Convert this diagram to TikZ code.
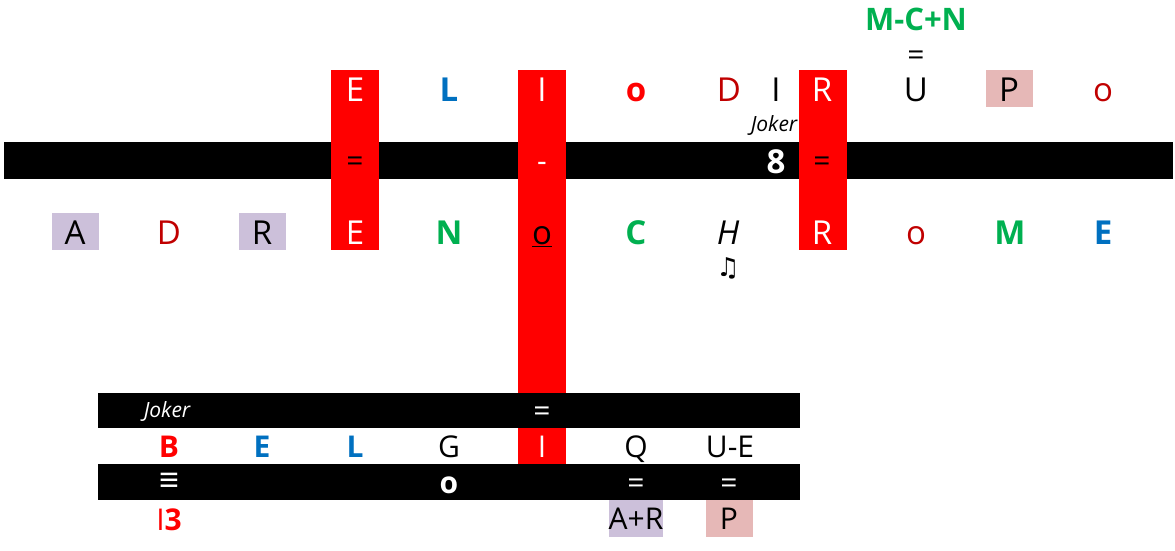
\documentclass[tikz,border=0pt]{standalone}
\usepackage{fontspec}
\setmainfont{Open Sans}
\newfontfamily\symfont{DejaVu Sans}
\newfontfamily\eqvfont{Liberation Sans}
\usepackage{xcolor}
\usepackage{tikz}
\definecolor{rouge}{HTML}{FF0000}
\definecolor{bordeaux}{HTML}{C00000}
\definecolor{bleu}{HTML}{0070C0}
\definecolor{vert}{HTML}{00B050}
\definecolor{lavande}{HTML}{CCC0DA}
\definecolor{rose}{HTML}{E6B8B7}
\newcommand{\cellfont}{\fontsize{33}{33}\selectfont}
\newcommand{\basfont}{\fontsize{30}{30}\selectfont}
\tikzset{
	cell/.style={minimum width=47pt,minimum height=37pt,inner sep=0pt,text height=25pt,text depth=0pt,font=\cellfont},
	gras/.style={font=\cellfont\bfseries},
	cellb/.style={cell,text height=22pt,font=\basfont},
	grasb/.style={font=\basfont\bfseries},
	joker/.style={inner sep=0pt,font=\fontsize{21}{21}\selectfont\itshape},
	bande/.style={fill=black},
	colonne/.style={fill=rouge}
}

\begin{document}
\begin{tikzpicture}[x=1pt,y=-1pt]
\useasboundingbox (0,0) rectangle (1175,550);

%Bande noire du haut
\fill[bande] (4,142) rectangle (1173,179);

%Colonnes rouges
\fill[colonne] (331,70) rectangle (379,250);
\fill[colonne] (518,70) rectangle (566,465);
\fill[colonne] (799,70) rectangle (847,250);

%Bandes noires du bas
\fill[bande] (98,393) rectangle (800,428);
\fill[bande] (98,464) rectangle (800,500);

%Indice en haut
\node[cell,vert,font=\fontsize{31}{31}\selectfont\bfseries] (mcn) at (916,18) {M-C+N};
\node[cellb] (egU) at (916,54) {=};

%Ligne du haut
\node[cell,white] (h1) at (355,88.5) {E};
\node[cell,gras,bleu] (h2) at (449,88.5) {L};
\node[cell,white] (h3) at (542,88.5) {I};
\node[cell,gras,rouge] (h4) at (636,88.5) {o};
\node[cell,bordeaux] (h5) at (729,88.5) {D};
\node[cell] (h5b) at (776,88.5) {I};
\node[cell,white] (h6) at (822,88.5) {R};
\node[cell] (h7) at (916,88.5) {U};
\node[cell,fill=rose] (h8) at (1009,88.5) {P};
\node[cell,bordeaux] (h9) at (1103,88.5) {o};

\node[joker] (jk1) at (774,125) {Joker};

%Dans la bande du haut
\node[cellb] (b1) at (355,160.5) {=};
\node[cellb,white] (b2) at (542,160.5) {-};
\node[cell,gras,white] (b3) at (776,160.5) {8};
\node[cellb] (b4) at (822,160.5) {=};

%Ligne du milieu
\node[cell,fill=lavande] (m1) at (75,231.5) {A};
\node[cell,bordeaux] (m2) at (169,231.5) {D};
\node[cell,fill=lavande] (m3) at (262,231.5) {R};
\node[cell,white] (m4) at (355,231.5) {E};
\node[cell,gras,vert] (m5) at (449,231.5) {N};
\node[cell] (m6) at (542,231.5) {\underline{o}};
\node[cell,gras,vert] (m7) at (636,231.5) {C};
\node[cell,font=\cellfont\itshape] (m8) at (728,231.5) {H};
\node[cell,white] (m9) at (822,231.5) {R};
\node[cell,bordeaux] (m10) at (916,231.5) {o};
\node[cell,gras,vert] (m11) at (1010,231.5) {M};
\node[cell,gras,bleu] (m12) at (1103,231.5) {E};

\node[inner sep=0pt,font=\fontsize{26}{26}\symfont] (note) at (728,268) {♫};

%Bande du bas 1
\node[joker,white] (jk2) at (167,411) {Joker};
\node[cellb,white] (c1) at (542,410.5) {=};

%Ligne du bas
\node[cellb,grasb,rouge] (d1) at (169,446.5) {B};
\node[cellb,grasb,bleu] (d2) at (262,446.5) {E};
\node[cellb,grasb,bleu] (d3) at (355,446.5) {L};
\node[cellb] (d4) at (449,446.5) {G};
\node[cellb,white] (d5) at (542,446.5) {I};
\node[cellb] (d6) at (636,446.5) {Q};
\node[cellb] (d7) at (730,446.5) {U-E};

%Bande du bas 2
\node[inner sep=0pt,white,font=\fontsize{34}{34}\eqvfont] (trois) at (169,482) {≡};
\node[cellb,grasb,white] (e2) at (449,482) {o};
\node[cellb,white] (e3) at (636,482) {=};
\node[cellb,white] (e4) at (729,482) {=};

%Tout en bas
\node[cellb,rouge] (f1) at (169,519) {I\textbf{3}};
\node[cellb,fill=lavande] (f2) at (636,518) {A+R};
\node[cellb,fill=rose] (f3) at (729,518) {P};

\end{tikzpicture}
\end{document}
